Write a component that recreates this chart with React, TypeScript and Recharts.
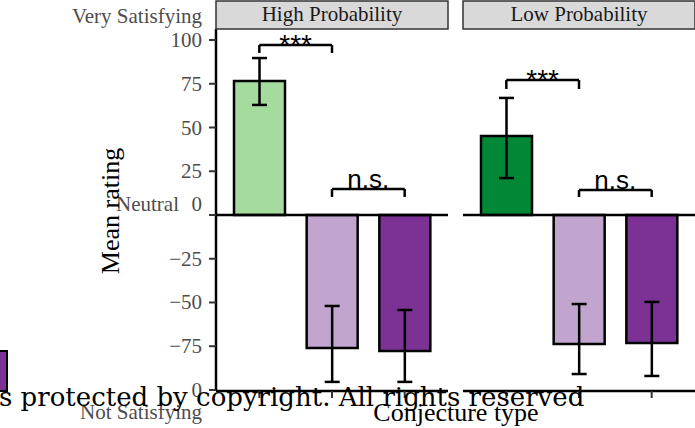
import { Bar, BarChart, Cell, ErrorBar, ReferenceLine, XAxis, YAxis } from "recharts";

// conjecture types (x categories) and panel names
const conjectureTypes = ["Type A", "Type B", "Type C"];
const panels = ["High Probability", "Low Probability"];

// mean rating and 95% interval per panel
const highMeans = [76.6, -76.0, -77.7];
const highLower = [62.9, -95.4, -95.4];
const highUpper = [89.7, -52.0, -54.3];

const lowMeans = [45.1, -73.7, -73.1];
const lowLower = [21.1, -90.9, -92.0];
const lowUpper = [66.9, -50.9, -49.7];

const highColors = ["#a6dba0", "#c2a5cf", "#7b3294"];
const lowColors = ["#008837", "#c2a5cf", "#7b3294"];

// y axis
const yTicks = [100, 75, 50, 25, 0, -25, -50, -75, -100];
const yTickLabels = ["100", "75", "50", "25", "0", "\u221225", "\u221250", "\u221275", "0"];
const yDomain = [-100.6, 106.3];

// significance brackets: [from, to, bar y, leg y, label]
const highBrackets: [number, number, number, number, string][] = [
  [0, 1, 97.1, 92.6, "***"],
  [1, 2, 14.9, 10.3, "n.s."],
];
const lowBrackets: [number, number, number, number, string][] = [
  [0, 1, 77.1, 72.0, "***"],
  [1, 2, 14.3, 10.3, "n.s."],
];

const serif = "'Liberation Serif', 'Times New Roman', serif";
const sans = "'Liberation Sans', Arial, sans-serif";
const lw = 2.5;

const buildRows = (means: number[], lower: number[], upper: number[]) =>
  conjectureTypes.map((type, i) => ({
    type,
    mean: means[i],
    err: [means[i] - lower[i], upper[i] - means[i]],
  }));

const highData = buildRows(highMeans, highLower, highUpper);
const lowData = buildRows(lowMeans, lowLower, lowUpper);

const bracketLabel = (text: string) => (props: any) => {
  const vb = props.viewBox || {};
  const cx = vb.x1 !== undefined ? (vb.x1 + vb.x2) / 2 : vb.x + (vb.width || 0) / 2;
  const y = vb.y1 !== undefined ? vb.y1 : vb.y;
  const stars = text !== "n.s.";
  return (
    <text
      x={cx}
      y={y + (stars ? 9 : -1)}
      textAnchor="middle"
      fontFamily={sans}
      fontSize={stars ? 28 : 26}
      fill="#000"
    >
      {text}
    </text>
  );
};

const YTick = (props: any) => {
  const { x, y, payload } = props;
  const idx = yTicks.indexOf(payload.value);
  const label = yTickLabels[idx] ?? String(payload.value);
  const isZero = payload.value === 0;
  const ty = isZero ? y - 4 : y + 7;
  return (
    <g>
      {isZero && (
        <text x={x - 23} y={ty} textAnchor="end" fontFamily={serif} fontSize={21} fill="#4d4d4d">
          Neutral
        </text>
      )}
      <text x={x} y={ty} textAnchor="end" fontFamily={serif} fontSize={21} fill="#4d4d4d">
        {label}
      </text>
    </g>
  );
};

function brackets(list: [number, number, number, number, string][]) {
  return list.flatMap(([a, b, y, leg, label], i) => [
    <ReferenceLine
      key={`h${i}`}
      segment={[
        { x: conjectureTypes[a], y },
        { x: conjectureTypes[b], y },
      ]}
      stroke="#000"
      strokeWidth={lw}
      label={bracketLabel(label)}
      ifOverflow="visible"
    />,
    <ReferenceLine
      key={`l${i}`}
      segment={[
        { x: conjectureTypes[a], y },
        { x: conjectureTypes[a], y: leg },
      ]}
      stroke="#000"
      strokeWidth={lw}
      ifOverflow="visible"
    />,
    <ReferenceLine
      key={`r${i}`}
      segment={[
        { x: conjectureTypes[b], y },
        { x: conjectureTypes[b], y: leg },
      ]}
      stroke="#000"
      strokeWidth={lw}
      ifOverflow="visible"
    />,
  ]);
}

function Panel({
  data,
  colors,
  list,
  showY,
  width,
}: {
  data: { type: string; mean: number; err: number[] }[];
  colors: string[];
  list: [number, number, number, number, string][];
  showY: boolean;
  width: number;
}) {
  return (
    <BarChart width={width} height={428} data={data} margin={{ top: 29, right: 0, bottom: 0, left: 0 }}>
      <XAxis
        dataKey="type"
        height={37}
        padding={{ left: 7, right: 7 }}
        tickSize={7}
        tickFormatter={() => ""}
        axisLine={{ stroke: "#000", strokeWidth: lw }}
        tickLine={{ stroke: "#333", strokeWidth: 2 }}
      />
      <YAxis
        hide={!showY}
        width={showY ? 216 : 0}
        type="number"
        domain={yDomain}
        ticks={yTicks}
        interval={0}
        allowDataOverflow
        tickSize={7}
        tickMargin={7}
        tick={<YTick />}
        axisLine={{ stroke: "#000", strokeWidth: lw }}
        tickLine={{ stroke: "#333", strokeWidth: 2 }}
      />
      <Bar dataKey="mean" barSize={51} stroke="#000" strokeWidth={lw} isAnimationActive={false}>
        {data.map((d, i) => (
          <Cell key={d.type} fill={colors[i]} />
        ))}
        <ErrorBar dataKey="err" direction="y" width={7.5} stroke="#000" strokeWidth={lw} isAnimationActive={false} />
      </Bar>
      <ReferenceLine y={0} stroke="#000" strokeWidth={lw} />
      {brackets(list)}
    </BarChart>
  );
}

export default function App() {
  return (
    <div
      style={{
        position: "absolute",
        left: 0,
        top: 0,
        width: 695,
        height: 428,
        background: "#fff",
        overflow: "hidden",
      }}
    >
      <div style={{ position: "absolute", left: 0, top: 0 }}>
        <Panel data={highData} colors={highColors} list={highBrackets} showY width={448} />
      </div>
      <div style={{ position: "absolute", left: 463, top: 0 }}>
        <Panel data={lowData} colors={lowColors} list={lowBrackets} showY={false} width={232} />
      </div>
      <svg
        width={695}
        height={428}
        style={{ position: "absolute", left: 0, top: 0, pointerEvents: "none" }}
      >
        {panels.map((p, i) => {
          const x0 = i === 0 ? 216 : 463;
          const w = 232;
          return (
            <g key={p}>
              <rect x={x0} y={1} width={w} height={28} fill="#d9d9d9" stroke="#333" strokeWidth={1.5} />
              <text
                x={x0 + w / 2}
                y={21}
                textAnchor="middle"
                fontFamily={serif}
                fontSize={21}
                fill="#1a1a1a"
              >
                {p}
              </text>
            </g>
          );
        })}
        <text x={202} y={23} textAnchor="end" fontFamily={serif} fontSize={21} fill="#4d4d4d">
          Very Satisfying
        </text>
        <text x={202} y={419} textAnchor="end" fontFamily={serif} fontSize={21} fill="#4d4d4d">
          Not Satisfying
        </text>
        <text
          x={0}
          y={0}
          textAnchor="middle"
          fontFamily={serif}
          fontSize={26}
          fill="#000"
          transform="translate(119 211) rotate(-90)"
        >
          Mean rating
        </text>
        <text x={456} y={421} textAnchor="middle" fontFamily={serif} fontSize={26} fill="#000">
          Conjecture type
        </text>
        <rect x={-3} y={351} width={10} height={40} fill="#7b3294" stroke="#000" strokeWidth={2} />
        <text x={-1} y={406} fontFamily="'DejaVu Serif', serif" fontSize={26} fill="#000">
          s protected by copyright. All rights reserved
        </text>
      </svg>
    </div>
  );
}
